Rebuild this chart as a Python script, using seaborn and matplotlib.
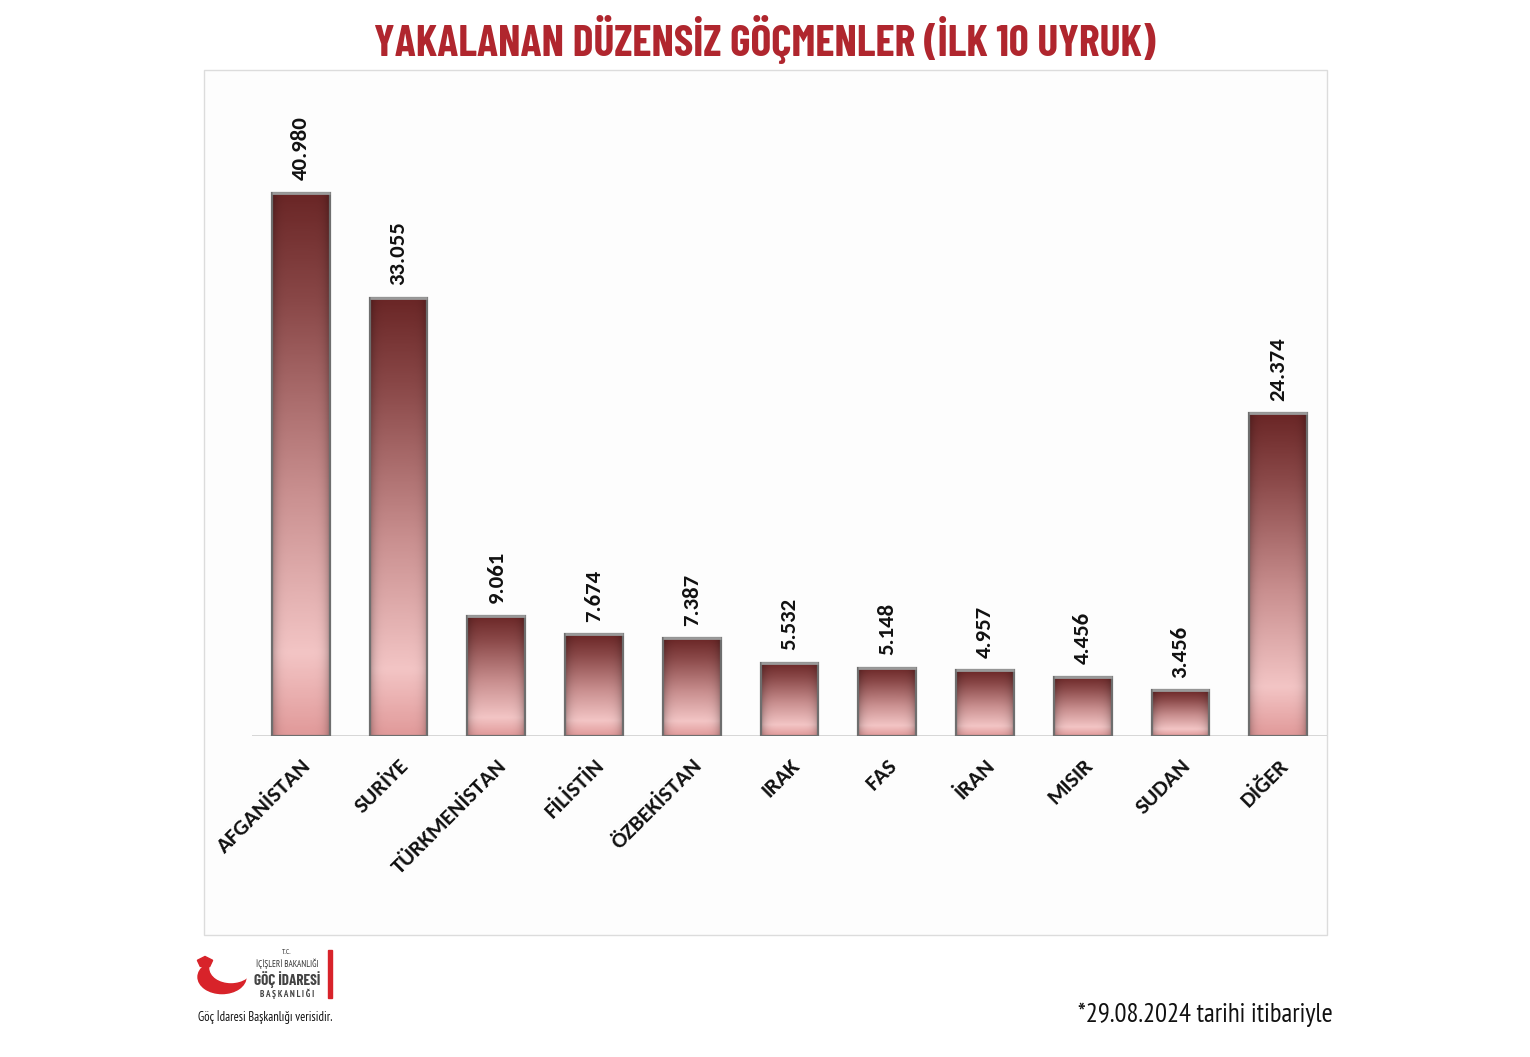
import numpy as np
import pandas as pd
import matplotlib
matplotlib.use("Agg")
import matplotlib.pyplot as plt
import seaborn as sns
from matplotlib.colors import LinearSegmentedColormap
from matplotlib.patches import Rectangle, Circle, RegularPolygon
from matplotlib import font_manager

countries = ["AFGANİSTAN", "SURİYE", "TÜRKMENİSTAN", "FİLİSTİN", "ÖZBEKİSTAN",
             "IRAK", "FAS", "İRAN", "MISIR", "SUDAN", "DİĞER"]
values = [40980, 33055, 9061, 7674, 7387, 5532, 5148, 4957, 4456, 3456, 24374]
title = "YAKALANAN DÜZENSİZ GÖÇMENLER (İLK 10 UYRUK)"
footnote = "*29.08.2024 tarihi itibariyle"
source = "Göç İdaresi Başkanlığı verisidir."

sns.set_theme(style="white")
names = {f.name for f in font_manager.fontManager.ttflist}

def pick(cands, default="DejaVu Sans"):
    for c in cands:
        if c in names:
            return c
    return default

f_title = pick(["Barlow Condensed", "Roboto Condensed", "Fira Sans Condensed",
                "Oswald", "IBM Plex Sans Condensed", "Open Sans Condensed"])
f_foot = pick(["PT Sans Narrow", "Roboto Condensed", "Barlow Condensed",
               "Fira Sans Condensed", "IBM Plex Sans Condensed", "Open Sans"])
f_body = pick(["Carlito", "Open Sans"])
plt.rcParams['font.family'] = [f_body, 'DejaVu Sans']

W, H = 1530, 1057
fig = plt.figure(figsize=(W / 100, H / 100), dpi=100)

def fx(x): return x / W
def fy(y): return 1 - y / H

# frame
fig.patches.append(Rectangle((fx(204), fy(935)), fx(1327) - fx(204), fy(70) - fy(935),
                             transform=fig.transFigure, facecolor="#fdfdfd",
                             edgecolor="#dcdcdc", lw=1.0, zorder=-5))

ax = fig.add_axes([fx(252), fy(736), fx(1327) - fx(252), fy(90) - fy(736)])
ax.set_facecolor("none")
df = pd.DataFrame({"country": countries, "value": values})
sns.barplot(data=df, x="country", y="value", ax=ax, width=0.59,
            color="#a05050", edgecolor="#6e6e6e", linewidth=1.6, zorder=3)
ax.set_xlim(-0.5, 10.5)
ax.set_ylim(0, 48750)

# gradient fill for each bar
cmap = LinearSegmentedColormap.from_list("g", [
    (0.0, "#e19a9a"), (0.15, "#f3c5c5"), (0.45, "#c98f8f"),
    (0.8, "#8a4848"), (1.0, "#6a2626")])
ny, nx = 200, 40
vy = np.linspace(0, 1, ny)[:, None]
hx = np.linspace(-1, 1, nx)[None, :]
shade = 1 - 0.25 * np.abs(hx) ** 6
base = cmap(np.repeat(vy, nx, axis=1))
base[..., :3] *= shade[..., None]
for p in list(ax.patches):
    x0, y0 = p.get_x(), p.get_y()
    w, h = p.get_width(), p.get_height()
    p.set_facecolor("none")
    im = ax.imshow(base, extent=[x0, x0 + w, y0, y0 + h], origin="lower",
                   aspect="auto", zorder=2, interpolation="bilinear")
    im.set_clip_path(p)
    ax.plot([x0, x0 + w], [y0 + h, y0 + h], color="#9a9a9a", lw=2.0, zorder=4,
            solid_capstyle="butt")

# value labels
for i, v in enumerate(values):
    ax.annotate(f"{v:,}".replace(",", "."), (i, v), xytext=(0, 9),
                textcoords="offset points", rotation=90, ha="center", va="bottom",
                fontsize=16.4, fontweight="bold", color="#111111")

ax.axhline(0, color="#d0d0d0", lw=1.2, zorder=1)
ax.set_xlabel("")
ax.set_ylabel("")
ax.set_yticks([])
ax.tick_params(axis="x", length=0, pad=14)
for lab in ax.get_xticklabels():
    lab.set_rotation(45)
    lab.set_ha("right")
    lab.set_rotation_mode("anchor")
    lab.set_fontsize(16.2)
    lab.set_fontweight("bold")
    lab.set_color("#111111")
for s in ax.spines.values():
    s.set_visible(False)
ax.set_aspect("auto")

fig.text(0.5, fy(40), title, ha="center", va="center", fontsize=31.5,
         fontweight="bold", color="#b0262e", family=[f_title, "DejaVu Sans"])

fig.text(fx(1333), fy(1015), footnote, ha="right", va="center", fontsize=19.3,
         color="#111111", family=[f_foot, "DejaVu Sans"])

# logo
fig.patches.append(Circle((fx(222), fy(977)), fx(24), transform=fig.transFigure,
                          color="#d8232a", zorder=1))
fig.patches.append(Circle((fx(231), fy(968)), fx(21), transform=fig.transFigure,
                          color="white", zorder=2))
fig.patches.append(RegularPolygon((fx(205), fy(962)), 5, radius=fx(8),
                                  transform=fig.transFigure, color="#d8232a", zorder=3))
fig.patches.append(Rectangle((fx(328), fy(998)), fx(4), fy(950) - fy(998),
                             transform=fig.transFigure, color="#d8232a"))
fig.text(fx(287), fy(953), "T.C.", ha="center", va="center", fontsize=5.5, color="#333333",
         family=[f_foot, "DejaVu Sans"])
fig.text(fx(287), fy(964), "İÇİŞLERİ BAKANLIĞI", ha="center", va="center", fontsize=6.5,
         color="#333333", family=[f_foot, "DejaVu Sans"])
fig.text(fx(287), fy(980), "GÖÇ İDARESİ", ha="center", va="center", fontsize=11,
         fontweight="bold", color="#444444", family=[f_title, "DejaVu Sans"])
fig.text(fx(287), fy(994), "B A Ş K A N L I Ğ I", ha="center", va="center", fontsize=6.5,
         fontweight="bold", color="#444444", family=[f_foot, "DejaVu Sans"])
fig.text(fx(198), fy(1017), source, ha="left", va="center", fontsize=9,
         style="italic", color="#111111", family=[f_foot, "DejaVu Sans"])

fig.savefig("out.png", dpi=100, facecolor="white")
